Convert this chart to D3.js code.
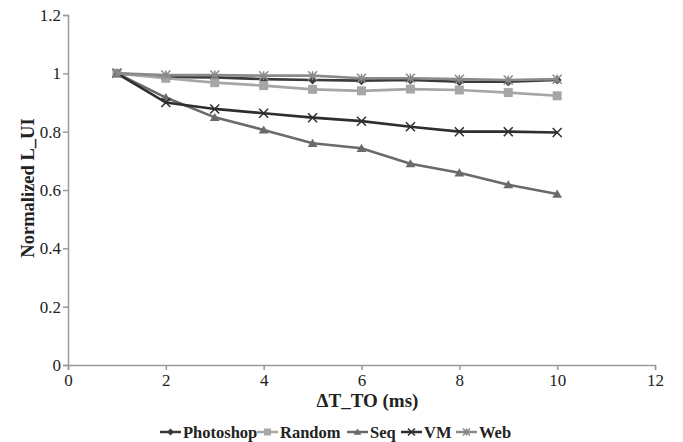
<!DOCTYPE html>
<html>
<head>
<meta charset="utf-8">
<script src="https://cdn.jsdelivr.net/npm/d3@7"></script>
<style>
  body { margin: 0; background: #fff; }
</style>
</head>
<body>
<div id="chartholder"></div>
<script>
// data
var xValues = [1, 2, 3, 4, 5, 6, 7, 8, 9, 10];
var photoshop = [1, 0.988, 0.986, 0.980, 0.977, 0.975, 0.977, 0.971, 0.971, 0.977];
var random = [1, 0.983, 0.968, 0.958, 0.945, 0.940, 0.946, 0.943, 0.934, 0.923];
var seq = [1, 0.917, 0.849, 0.806, 0.760, 0.743, 0.690, 0.659, 0.618, 0.586];
var vm = [1, 0.900, 0.878, 0.863, 0.848, 0.836, 0.817, 0.800, 0.800, 0.797];
var web = [1, 0.994, 0.994, 0.992, 0.992, 0.983, 0.983, 0.980, 0.977, 0.980];
var seriesNames = ["Photoshop", "Random", "Seq", "VM", "Web"];
var xTicks = [0, 2, 4, 6, 8, 10, 12];
var yTicks = [0, 0.2, 0.4, 0.6, 0.8, 1, 1.2];

var FONT = "'Liberation Serif', 'Times New Roman', serif";

var series = [
  { name: seriesNames[0], values: photoshop, color: "#3a3a3a", marker: "diamond" },
  { name: seriesNames[1], values: random, color: "#a6a6a6", marker: "square" },
  { name: seriesNames[2], values: seq, color: "#6a6a6a", marker: "triangle" },
  { name: seriesNames[3], values: vm, color: "#2e2e2e", marker: "cross" },
  { name: seriesNames[4], values: web, color: "#8a8a8a", marker: "star" }
];

var svg = d3.select("#chartholder")
  .append("svg")
  .attr("width", 683)
  .attr("height", 442)
  .style("font-family", FONT);

var margin = { top: 15, right: 28, bottom: 77, left: 68 },
    width = 683 - margin.left - margin.right,
    height = 442 - margin.top - margin.bottom;

var g = svg.append("g")
  .attr("transform", "translate(" + margin.left + "," + margin.top + ")");

var x = d3.scaleLinear().domain([0, 12]).range([0, width]);
var y = d3.scaleLinear().domain([0, 1.2]).range([height, 0]);

// axes
var xAxis = g.append("g")
  .attr("transform", "translate(0," + height + ")")
  .call(d3.axisBottom(x).tickValues(xTicks).tickSize(5).tickPadding(4).tickFormat(d3.format("d")));
var yAxis = g.append("g")
  .call(d3.axisLeft(y).tickValues(yTicks).tickSize(5).tickPadding(2).tickFormat(function(d) { return d3.format("")(d); }));

[xAxis, yAxis].forEach(function(a) {
  a.attr("font-family", null).attr("font-size", null);
  a.selectAll("path, line").attr("stroke", "#9a9a9a").attr("stroke-width", 1.5);
  a.selectAll("text").style("font-family", FONT).style("font-size", "17px").attr("fill", "#222");
});

// axis titles
g.append("text")
  .attr("x", width / 2 + 6)
  .attr("y", height + 42)
  .attr("text-anchor", "middle")
  .style("font-family", FONT)
  .style("font-size", "19px")
  .style("font-weight", "bold")
  .attr("fill", "#222")
  .text("\u0394T_TO (ms)");

g.append("text")
  .attr("transform", "translate(" + (-34) + "," + (height / 2 - 2) + ") rotate(-90)")
  .attr("text-anchor", "middle")
  .style("font-family", FONT)
  .style("font-size", "18.5px")
  .style("font-weight", "bold")
  .attr("fill", "#222")
  .text("Normalized L_UI");

function drawMarker(sel, type, color, s) {
  if (type === "diamond") {
    sel.append("path").attr("d", "M0," + (-s) + "L" + s + ",0L0," + s + "L" + (-s) + ",0Z").attr("fill", color);
  } else if (type === "square") {
    sel.append("rect").attr("x", -s).attr("y", -s).attr("width", 2 * s).attr("height", 2 * s).attr("fill", color);
  } else if (type === "triangle") {
    sel.append("path").attr("d", "M0," + (-s) + "L" + (s * 1.1) + "," + (s * 0.8) + "L" + (-s * 1.1) + "," + (s * 0.8) + "Z").attr("fill", color);
  } else if (type === "cross") {
    sel.append("path").attr("d", "M" + (-s) + "," + (-s) + "L" + s + "," + s + "M" + (-s) + "," + s + "L" + s + "," + (-s))
      .attr("stroke", color).attr("stroke-width", 1.5).attr("fill", "none");
  } else if (type === "star") {
    sel.append("path").attr("d", "M" + (-s) + "," + (-s) + "L" + s + "," + s + "M" + (-s) + "," + s + "L" + s + "," + (-s) + "M0," + (-s) + "L0," + s)
      .attr("stroke", color).attr("stroke-width", 1.5).attr("fill", "none");
  }
}

var line = d3.line()
  .x(function(d, i) { return x(xValues[i]); })
  .y(function(d) { return y(d); });

series.forEach(function(s) {
  var sg = g.append("g").attr("class", "series");
  sg.append("path")
    .datum(s.values)
    .attr("d", line)
    .attr("fill", "none")
    .attr("stroke", s.color)
    .attr("stroke-width", 2.6);
  sg.selectAll(".pt")
    .data(s.values)
    .enter().append("g")
    .attr("class", "pt")
    .attr("transform", function(d, i) { return "translate(" + x(xValues[i]) + "," + y(d) + ")"; })
    .each(function() { drawMarker(d3.select(this), s.marker, s.color, 4.5); });
});

// legend
var legendPos = [160, 257, 347, 401, 456];
var legend = svg.append("g").attr("transform", "translate(0,432)");
series.forEach(function(s, i) {
  var lg = legend.append("g").attr("transform", "translate(" + legendPos[i] + ",0)");
  lg.append("line").attr("x1", 0).attr("x2", 21).attr("y1", 0).attr("y2", 0)
    .attr("stroke", s.color).attr("stroke-width", 2.5);
  var m = lg.append("g").attr("transform", "translate(10.5,0)");
  drawMarker(m, s.marker, s.color, 3.5);
  lg.append("text")
    .attr("x", 23)
    .attr("y", 6)
    .style("font-family", FONT)
    .style("font-size", "16.5px")
    .style("font-weight", "bold")
    .attr("fill", "#222")
    .text(s.name);
});
</script>
</body>
</html>
